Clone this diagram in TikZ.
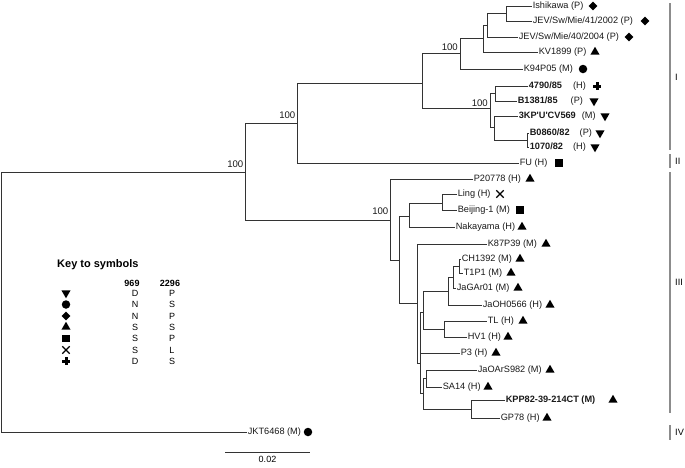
\documentclass[tikz,border=0pt]{standalone}
\usepackage{fontspec}
\setmainfont{Liberation Sans}
\usetikzlibrary{shapes.geometric,shapes.misc}
\begin{document}
\begin{tikzpicture}[x=1pt,y=-1pt,
  br/.style={line width=0.9pt,draw=black!80},
  leaf/.style={anchor=west,inner sep=0.6pt,font=\fontsize{9.2}{10}\selectfont,text=black!90},
  boot/.style={anchor=south east,inner sep=0.5pt,font=\fontsize{9.6}{10}\selectfont,text=black!90},
  mk/.style={fill=black,draw=none,inner sep=0pt},
  tup/.style={mk,regular polygon,regular polygon sides=3,minimum size=10.5pt},
  tdn/.style={tup,shape border rotate=180},
  dotmk/.style={mk,circle,minimum size=8.5pt},
  diamk/.style={mk,diamond,minimum size=9pt},
  sqmk/.style={mk,rectangle,minimum size=7.5pt},
  xmk/.style={draw=black,cross out,line width=1.3pt,minimum size=6pt,inner sep=0pt},
  plusmk/.pic={\fill (-4,-1.5) rectangle (4,1.5); \fill (-1.5,-4) rectangle (1.5,4);},
  clade/.style={line width=1.6pt,draw=black!45},
  cladelab/.style={anchor=west,inner sep=0pt,font=\fontsize{9.2}{10}\selectfont},
  keytxt/.style={inner sep=0pt,font=\fontsize{9}{10}\selectfont},
]
\useasboundingbox (0,0) rectangle (685,467);

% ---------- internal nodes ----------
\coordinate (root) at (1,172);
\coordinate (nR1) at (245,172);
\coordinate (n297) at (297,123);
\coordinate (n422) at (422,83);
\coordinate (n460) at (460,53);
\coordinate (n483) at (483,38);
\coordinate (n487) at (487,25);
\coordinate (n506) at (506,13);
\coordinate (n491) at (490,108);
\coordinate (n495) at (495,93);
\coordinate (n494) at (494,127);
\coordinate (n527) at (527,140);
\coordinate (n390) at (390,220);
\coordinate (n399) at (399,260);
\coordinate (n409) at (409,216);
\coordinate (n442) at (442,203);
\coordinate (n417) at (417,303);
\coordinate (nA) at (420,363);
\coordinate (nB) at (423,312);
\coordinate (n448) at (448,291);
\coordinate (n453) at (453,277);
\coordinate (n459) at (459,266);
\coordinate (n444) at (444,329);
\coordinate (nC) at (423,393);
\coordinate (nD) at (426,378);
\coordinate (nE) at (471,409);

% ---------- leaves ----------
\node[leaf] (Ish) at (532,6) {Ishikawa (P)};
\node[leaf] (JEV41) at (532,21) {JEV/Sw/Mie/41/2002 (P)};
\node[leaf] (JEV40) at (518,37) {JEV/Sw/Mie/40/2004 (P)};
\node[leaf] (KV) at (538,52) {KV1899 (P)};
\node[leaf] (K94) at (523,69) {K94P05 (M)};
\node[leaf] (L4790) at (528,86) {\textbf{4790/85}\hspace{11pt}(H)};
\node[leaf] (B1381) at (517,101) {\textbf{B1381/85}\hspace{13pt}(P)};
\node[leaf] (K3KP) at (518,116) {\textbf{3KP\textquotesingle U\textquotesingle CV569}\hspace{6pt}(M)};
\node[leaf] (B0860) at (529,133) {\textbf{B0860/82}\hspace{10pt}(P)};
\node[leaf] (L1070) at (529,147) {\textbf{1070/82}\hspace{10pt}(H)};
\node[leaf] (FU) at (519,163) {FU (H)};
\node[leaf] (P20778) at (473,179) {P20778 (H)};
\node[leaf] (Ling) at (457,194) {Ling (H)};
\node[leaf] (Bei) at (457,210) {Beijing-1 (M)};
\node[leaf] (Nak) at (455,227) {Nakayama (H)};
\node[leaf] (K87) at (487,244) {K87P39 (M)};
\node[leaf] (CH) at (461,259) {CH1392 (M)};
\node[leaf] (T1P1) at (463,273) {T1P1 (M)};
\node[leaf] (JaGAr) at (456,288) {JaGAr01 (M)};
\node[leaf] (JaOH) at (482,305) {JaOH0566 (H)};
\node[leaf] (TL) at (487,321) {TL (H)};
\node[leaf] (HV1) at (467,337) {HV1 (H)};
\node[leaf] (P3) at (460,353) {P3 (H)};
\node[leaf] (JaOArS) at (477,370) {JaOArS982 (M)};
\node[leaf] (SA14) at (442,387) {SA14 (H)};
\node[leaf] (KPP) at (505,400) {\textbf{KPP82-39-214CT (M)}};
\node[leaf] (GP78) at (500,418) {GP78 (H)};
\node[leaf] (JKT) at (247,432) {JKT6468 (M)};

% ---------- branches ----------
\draw[br] (root) |- (nR1);
\draw[br] (root) |- (JKT.west);
\draw[br] (nR1) |- (n297);
\draw[br] (nR1) |- (n390);
\draw[br] (n297) |- (n422);
\draw[br] (n297) |- (FU.west);
\draw[br] (n422) |- (n460);
\draw[br] (n422) |- (n491);
\draw[br] (n460) |- (n483);
\draw[br] (n460) |- (K94.west);
\draw[br] (n483) |- (n487);
\draw[br] (n483) |- (KV.west);
\draw[br] (n487) |- (n506);
\draw[br] (n487) |- (JEV40.west);
\draw[br] (n506) |- (Ish.west);
\draw[br] (n506) |- (JEV41.west);
\draw[br] (n491) |- (n495);
\draw[br] (n491) |- (n494);
\draw[br] (n495) |- (L4790.west);
\draw[br] (n495) |- (B1381.west);
\draw[br] (n494) |- (K3KP.west);
\draw[br] (n494) |- (n527);
\draw[br] (n527) |- (B0860.west);
\draw[br] (n527) |- (L1070.west);
\draw[br] (n390) |- (P20778.west);
\draw[br] (n390) |- (n399);
\draw[br] (n399) |- (n409);
\draw[br] (n399) |- (n417);
\draw[br] (n409) |- (n442);
\draw[br] (n409) |- (Nak.west);
\draw[br] (n442) |- (Ling.west);
\draw[br] (n442) |- (Bei.west);
\draw[br] (n417) |- (K87.west);
\draw[br] (n417) |- (nA);
\draw[br] (nA) |- (nB);
\draw[br] (nA) |- (P3.west);
\draw[br] (nA) |- (nC);
\draw[br] (nB) |- (n448);
\draw[br] (nB) |- (n444);
\draw[br] (n448) |- (n453);
\draw[br] (n448) |- (JaOH.west);
\draw[br] (n453) |- (n459);
\draw[br] (n453) |- (JaGAr.west);
\draw[br] (n459) |- (CH.west);
\draw[br] (n459) |- (T1P1.west);
\draw[br] (n444) |- (TL.west);
\draw[br] (n444) |- (HV1.west);
\draw[br] (nC) |- (nD);
\draw[br] (nC) |- (nE);
\draw[br] (nD) |- (JaOArS.west);
\draw[br] (nD) |- (SA14.west);
\draw[br] (nE) |- (KPP.west);
\draw[br] (nE) |- (GP78.west);

% ---------- bootstrap values ----------
\node[boot] (bR1) at (244,168) {100};
\node[boot] (b297) at (296,119.5) {100};
\node[boot] (b460) at (458.5,51) {100};
\node[boot] (b491) at (488.5,107) {100};
\node[boot] (b390) at (389,215) {100};

% ---------- markers ----------
\node[diamk] (mIsh) at (593,6) {};
\node[diamk] (mJEV41) at (645,21) {};
\node[diamk] (mJEV40) at (629,37) {};
\node[tup] (mKV) at (595,52) {};
\node[dotmk] (mK94) at (583,69) {};
\pic (m4790) at (597,86) {plusmk};
\node[tdn] (mB1381) at (594,101) {};
\node[tdn] (m3KP) at (605,116) {};
\node[tdn] (mB0860) at (600,133) {};
\node[tdn] (m1070) at (595,147) {};
\node[sqmk] (mFU) at (559,163) {};
\node[tup] (mP20778) at (530,179) {};
\node[xmk] (mLing) at (500,194) {};
\node[sqmk] (mBei) at (520,210) {};
\node[tup] (mNak) at (522,227) {};
\node[tup] (mK87) at (546,244) {};
\node[tup] (mCH) at (520,259) {};
\node[tup] (mT1P1) at (511,273) {};
\node[tup] (mJaGAr) at (518,288) {};
\node[tup] (mJaOH) at (550,305) {};
\node[tup] (mTL) at (523,321) {};
\node[tup] (mHV1) at (508,337) {};
\node[tup] (mP3) at (496,353) {};
\node[tup] (mJaOArS) at (550,370) {};
\node[tup] (mSA14) at (488,387) {};
\node[tup] (mKPP) at (613,400) {};
\node[tup] (mGP78) at (547,418) {};
\node[dotmk] (mJKT) at (308,432) {};

% ---------- clade brackets ----------
\coordinate (cIa) at (670,3);   \coordinate (cIb) at (670,150);
\coordinate (cIIa) at (670,154); \coordinate (cIIb) at (670,168);
\coordinate (cIIIa) at (670,172); \coordinate (cIIIb) at (670,413);
\coordinate (cIVa) at (670,425); \coordinate (cIVb) at (670,440);
\draw[clade] (cIa) -- (cIb);
\draw[clade] (cIIa) -- (cIIb);
\draw[clade] (cIIIa) -- (cIIIb);
\draw[clade] (cIVa) -- (cIVb);
\node[cladelab] (lI) at (675,77) {I};
\node[cladelab] (lII) at (675,161) {II};
\node[cladelab] (lIII) at (675,282) {III};
\node[cladelab] (lIV) at (675,432) {IV};

% ---------- scale bar ----------
\coordinate (sbL) at (225,452);
\coordinate (sbR) at (310,452);
\draw[br] (sbL) -- (sbR);
\node[keytxt,anchor=north] (sblab) at (267.5,456) {0.02};

% ---------- key ----------
\node[anchor=west,inner sep=0pt,font=\bfseries\fontsize{11}{12}\selectfont] (keyhead) at (57,265) {Key to symbols};
\node[keytxt,font=\bfseries\fontsize{9}{10}\selectfont] (k969) at (132,283) {969};
\node[keytxt,font=\bfseries\fontsize{9}{10}\selectfont] (k2296) at (170,283) {2296};
\node[tdn] (ks1) at (66,293) {};
\node[dotmk] (ks2) at (66,304.5) {};
\node[diamk] (ks3) at (66,316) {};
\node[tup] (ks4) at (66,327) {};
\node[sqmk] (ks5) at (66,338.5) {};
\node[xmk] (ks6) at (66,350) {};
\pic (ks7) at (66,361) {plusmk};
\node[keytxt] (ka1) at (135,293) {D};
\node[keytxt] (ka2) at (135,304.5) {N};
\node[keytxt] (ka3) at (135,316) {N};
\node[keytxt] (ka4) at (135,327) {S};
\node[keytxt] (ka5) at (135,338.5) {S};
\node[keytxt] (ka6) at (135,350) {S};
\node[keytxt] (ka7) at (135,361) {D};
\node[keytxt] (kb1) at (172,293) {P};
\node[keytxt] (kb2) at (172,304.5) {S};
\node[keytxt] (kb3) at (172,316) {P};
\node[keytxt] (kb4) at (172,327) {S};
\node[keytxt] (kb5) at (172,338.5) {P};
\node[keytxt] (kb6) at (172,350) {L};
\node[keytxt] (kb7) at (172,361) {S};
\end{tikzpicture}
\end{document}
